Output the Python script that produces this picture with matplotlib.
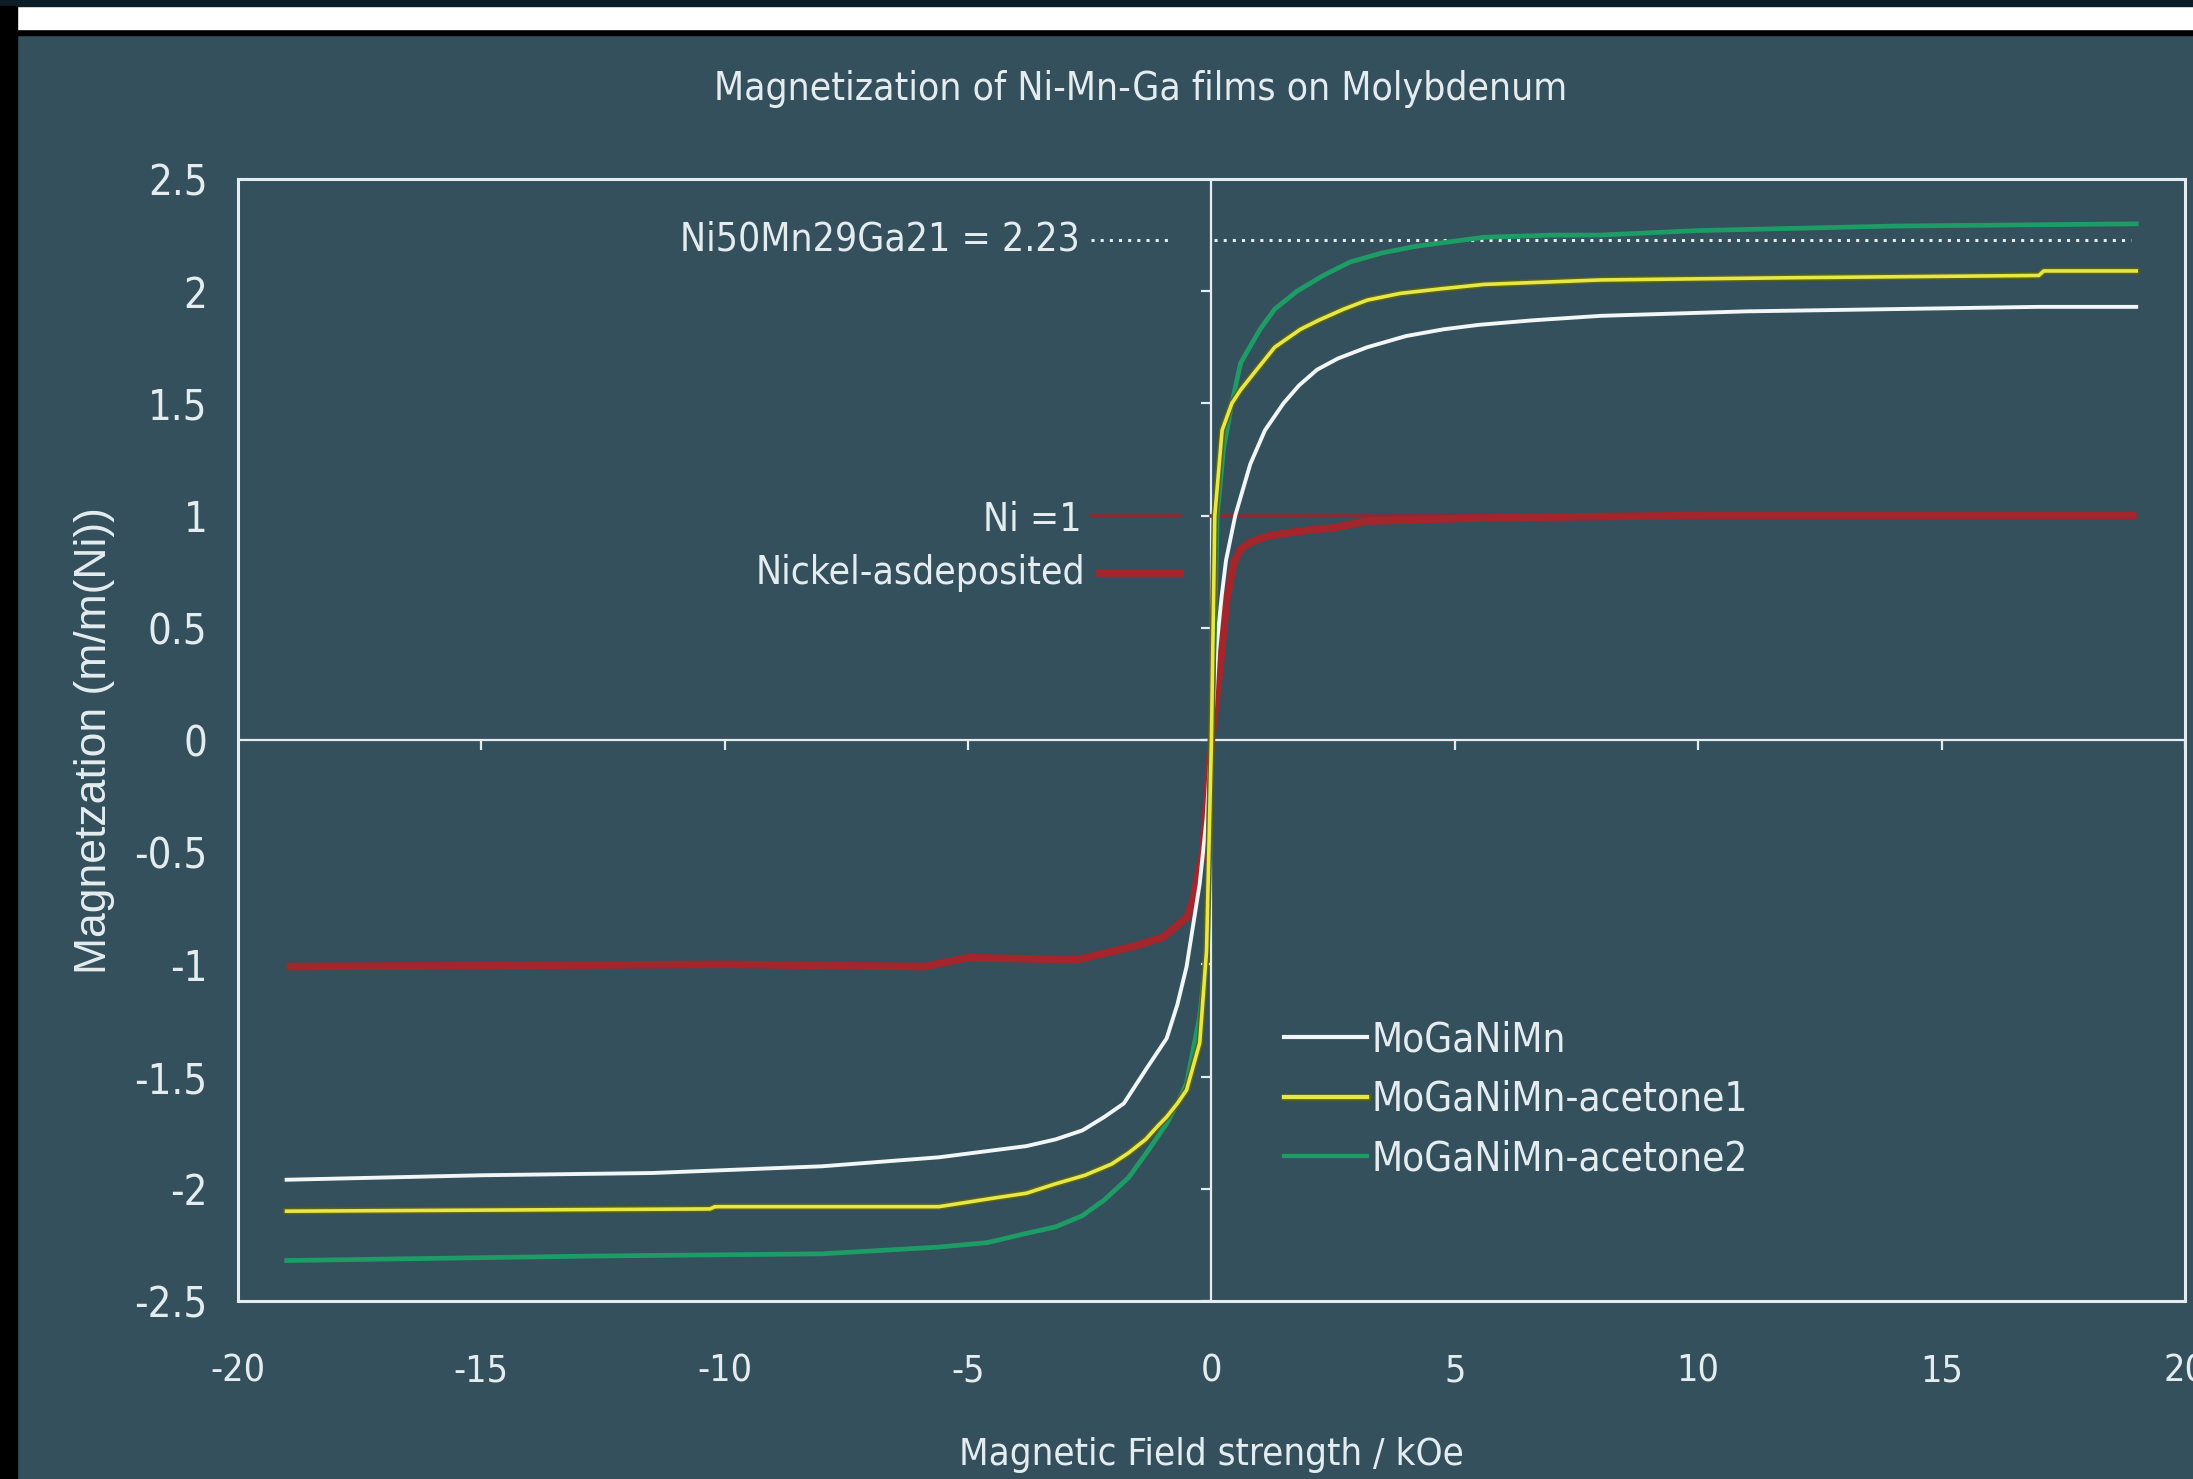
import numpy as np
import matplotlib.pyplot as plt
import matplotlib.patheffects as pe
from matplotlib.patches import Rectangle

# Magnetization curves (field in kOe, m/m(Ni))
x_white = [-19, -15, -11.5, -8, -5.6, -3.8, -3.2, -2.65, -2.2, -1.8, -1.35, -0.92, -0.7, -0.51, -0.24, -0.1, 0,
           0.1, 0.21, 0.3, 0.49, 0.8, 1.1, 1.48, 1.8, 2.17, 2.6, 3.2, 4.0, 4.77, 5.5, 6.6, 8, 11, 14, 17, 19]
y_white = [-1.96, -1.94, -1.93, -1.90, -1.86, -1.81, -1.78, -1.74, -1.68, -1.62, -1.47, -1.33, -1.18, -1.01, -0.64, -0.35, 0,
           0.40, 0.64, 0.80, 1.0, 1.23, 1.38, 1.50, 1.58, 1.65, 1.70, 1.75, 1.80, 1.83, 1.85, 1.87, 1.89, 1.91, 1.92, 1.93, 1.93]

x_yellow = [-19, -10.3, -10.2, -5.6, -4.42, -3.8, -3.23, -2.6, -2.05, -1.7, -1.35, -1.1, -0.92, -0.7, -0.51, -0.24, -0.1, 0,
            0.07, 0.22, 0.42, 0.6, 0.93, 1.3, 1.83, 2.2, 2.72, 3.2, 3.88, 4.7, 5.6, 8, 12, 17, 17.1, 19]
y_yellow = [-2.10, -2.09, -2.08, -2.08, -2.04, -2.02, -1.98, -1.94, -1.89, -1.84, -1.78, -1.72, -1.68, -1.62, -1.56, -1.35, -0.94, 0,
            1.0, 1.38, 1.50, 1.56, 1.65, 1.75, 1.83, 1.87, 1.92, 1.96, 1.99, 2.01, 2.03, 2.05, 2.06, 2.07, 2.09, 2.09]

x_green = [-19, -12.7, -8, -5.6, -4.6, -3.82, -3.2, -2.65, -2.2, -1.7, -1.3, -0.92, -0.7, -0.51, -0.24, -0.1, 0,
           0.08, 0.12, 0.25, 0.42, 0.6, 1.0, 1.3, 1.76, 2.3, 2.85, 3.5, 4.2, 5.6, 7, 8, 10, 14, 19]
y_green = [-2.32, -2.30, -2.29, -2.26, -2.24, -2.20, -2.17, -2.12, -2.05, -1.95, -1.83, -1.71, -1.62, -1.53, -1.23, -0.94, 0,
           0.62, 1.0, 1.30, 1.50, 1.68, 1.83, 1.92, 2.00, 2.07, 2.13, 2.17, 2.20, 2.24, 2.25, 2.25, 2.27, 2.29, 2.30]

x_red = [-19, -10, -5.9, -5.0, -2.76, -1.6, -1.0, -0.5, -0.37, -0.17, 0,
         0.18, 0.31, 0.46, 0.6, 0.8, 1.1, 1.48, 2.0, 2.5, 3.2, 5.6, 10, 19]
y_red = [-1.01, -1.00, -1.01, -0.97, -0.98, -0.92, -0.88, -0.79, -0.71, -0.49, 0,
         0.33, 0.62, 0.79, 0.85, 0.88, 0.905, 0.92, 0.935, 0.945, 0.975, 0.99, 1.0, 1.0]

series_labels = ['MoGaNiMn', 'MoGaNiMn-acetone1', 'MoGaNiMn-acetone2']

nimnga_ref = 2.23
ni_ref = 1.0
x_ticks = np.arange(-20, 21, 5)
y_ticks = np.arange(-2.5, 2.51, 0.5)

bg = '#33505c'
fg = '#e4ecef'
narrow = ['Liberation Sans Narrow', 'DejaVu Sans']
cond = dict(family=narrow, stretch='condensed')

fig = plt.figure(figsize=(21.93, 14.79), dpi=100, facecolor=bg)
ax = fig.add_axes([0.1085, 0.1204, 0.8878, 0.7586])
ax.set_facecolor(bg)

# frame bits of the screenshot
fig.add_artist(Rectangle((0, 1 - 35 / 1479), 1, 35 / 1479, transform=fig.transFigure, color='black', zorder=0))
fig.add_artist(Rectangle((17 / 2193, 1 - 29 / 1479), 1, 23 / 1479, transform=fig.transFigure, color='white', zorder=1))
fig.add_artist(Rectangle((0, 1 - 6 / 1479), 1, 6 / 1479, transform=fig.transFigure, color='#0c1d27', zorder=1))
fig.add_artist(Rectangle((0, 0), 17 / 2193, 1 - 6 / 1479, transform=fig.transFigure, color='black', zorder=1))

# zero axes with tick marks
ax.axhline(0, color=fg, lw=1.6, zorder=2)
ax.axvline(0, color=fg, lw=1.6, zorder=2)
ax.plot(np.zeros(len(y_ticks)), y_ticks, ls='none', marker=0, ms=7, mew=1.6, color=fg, zorder=2)
ax.plot(x_ticks, np.zeros(len(x_ticks)), ls='none', marker=3, ms=7, mew=1.6, color=fg, zorder=2)

# reference lines
ax.plot([0.06, 18.9], [nimnga_ref, nimnga_ref], color=fg, lw=2.2, dashes=(1, 2), zorder=3)
ax.plot([-2.47, -0.8], [nimnga_ref, nimnga_ref], color=fg, lw=2.2, dashes=(1, 2), zorder=3)
ax.plot([0, 19], [ni_ref, ni_ref], color='#8d2a31', lw=2.6, zorder=3)
ax.plot([-2.45, -0.65], [ni_ref, ni_ref], color='#8d2a31', lw=2.6, zorder=3)
ax.plot([-2.28, -0.64], [0.745, 0.745], color='#a3262c', lw=5.5, zorder=3)

# curves
ax.plot(x_red, y_red, color='#a3262c', lw=5.5, solid_capstyle='butt', zorder=4)
ax.plot(x_white, y_white, color='#f2f6f7', lw=2.8, zorder=5, label=series_labels[0])
ax.plot(x_yellow, y_yellow, color='#e6e84a', lw=2.6, zorder=6, label=series_labels[1],
        path_effects=[pe.Stroke(linewidth=4.8, foreground='#5c6310'), pe.Normal()])
ax.plot(x_green, y_green, color='#1e9c66', lw=3.4, zorder=5, label=series_labels[2])

# annotations
ax.text(-2.7, nimnga_ref, 'Ni50Mn29Ga21 = 2.23', ha='right', va='center',
        color=fg, fontsize=28, **cond)
ax.text(-2.67, 0.98, 'Ni =1', ha='right', va='center', color=fg, fontsize=28, **cond)
ax.text(-2.6, 0.745, 'Nickel-asdeposited', ha='right', va='center', color=fg, fontsize=28, **cond)

ax.set_xlim(-20, 20)
ax.set_ylim(-2.5, 2.5)
ax.set_xticks(x_ticks)
ax.set_yticks(y_ticks)
ax.set_xticklabels([f'{v:g}' for v in x_ticks], fontsize=27, **cond)
ax.set_yticklabels([f'{v:g}' for v in y_ticks], fontsize=30, **cond)
ax.tick_params(axis='x', length=0, pad=38, colors=fg)
ax.tick_params(axis='y', length=0, pad=22, colors=fg)
for sp in ax.spines.values():
    sp.set_color(fg)
    sp.set_linewidth(2.2)

leg = ax.legend(loc='upper left', bbox_to_anchor=(0.527, 0.268), frameon=False,
                handlelength=2.05, handletextpad=0.12, labelspacing=0.48, borderpad=0,
                prop={'family': narrow, 'stretch': 'condensed', 'size': 29})
for t in leg.get_texts():
    t.set_color(fg)
for h in leg.get_lines():
    h.set_linewidth(3)

fig.text(0.5203, 0.9395, 'Magnetization of Ni-Mn-Ga films on Molybdenum', ha='center', va='center',
         color=fg, fontsize=28, **cond)
fig.text(0.0433, 0.499, 'Magnetzation (m/m(Ni))', rotation=90, ha='center', va='center',
         color=fg, fontsize=32, family=['Liberation Sans', 'DejaVu Sans'])
fig.text(0.5524, 0.016, 'Magnetic Field strength / kOe', ha='center', va='center',
         color=fg, fontsize=27.5, **cond)

fig.savefig('out.png', dpi=100, facecolor=bg)
